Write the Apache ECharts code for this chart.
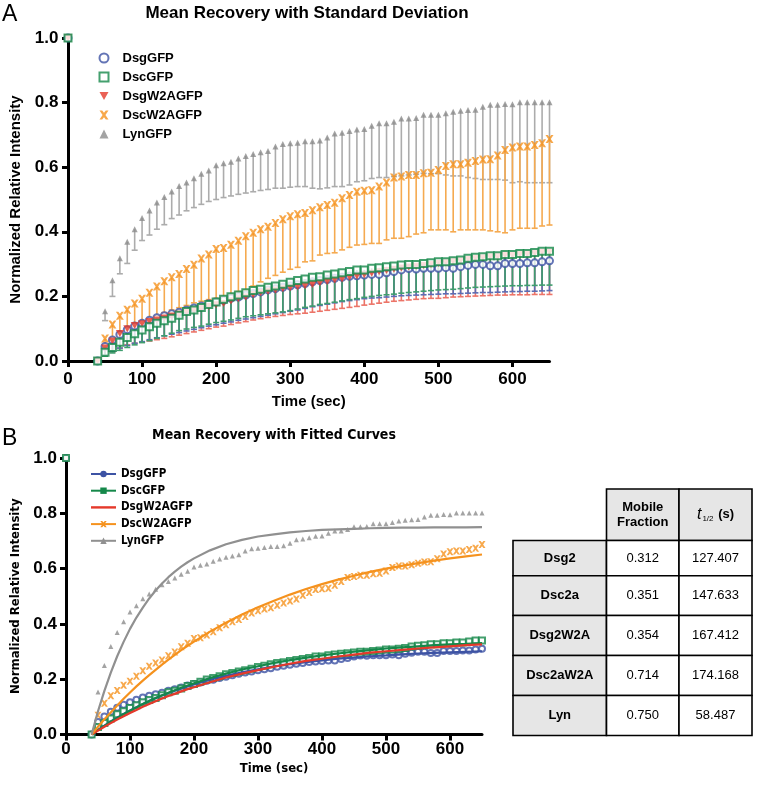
<!DOCTYPE html>
<html><head><meta charset="utf-8">
<script src="https://cdn.jsdelivr.net/npm/echarts@6/dist/echarts.min.js"></script>
<style>html,body{margin:0;padding:0;background:#fff}#c{width:758px;height:786px}</style>
</head><body><div id="c"></div>
<script>
// ---------------- DATA ----------------
const times = [0, 40,
  50, 60, 70, 80, 90, 100, 110, 120, 130, 140,
  150, 160, 170, 180, 190, 200, 210, 220, 230, 240,
  250, 260, 270, 280, 290, 300, 310, 320, 330, 340,
  350, 360, 370, 380, 390, 400, 410, 420, 430, 440,
  450, 460, 470, 480, 490, 500, 510, 520, 530, 540,
  550, 560, 570, 580, 590, 600, 610, 620, 630, 640,
  650];
const seriesNames = ['DsgGFP', 'DscGFP', 'DsgW2AGFP', 'DscW2AGFP', 'LynGFP'];
const xTicks = [0, 100, 200, 300, 400, 500, 600];

const dsgMean = [1.0, 0,
  0.045, 0.065, 0.082, 0.097, 0.108, 0.117, 0.126, 0.134, 0.140, 0.146,
  0.151, 0.158, 0.164, 0.170, 0.177, 0.183, 0.188, 0.194, 0.198, 0.204,
  0.209, 0.214, 0.220, 0.224, 0.228, 0.232, 0.236, 0.240, 0.245, 0.249,
  0.252, 0.256, 0.259, 0.262, 0.264, 0.266, 0.268, 0.268, 0.273, 0.277,
  0.282, 0.286, 0.285, 0.287, 0.287, 0.287, 0.289, 0.287, 0.292, 0.296,
  0.299, 0.299, 0.295, 0.295, 0.302, 0.302, 0.302, 0.304, 0.304, 0.307,
  0.310];
const dsgLow = [null, null,
  0.018, 0.030, 0.040, 0.048, 0.055, 0.060, 0.066, 0.072, 0.078, 0.083,
  0.088, 0.093, 0.098, 0.103, 0.108, 0.112, 0.117, 0.121, 0.126, 0.130,
  0.134, 0.138, 0.142, 0.146, 0.150, 0.154, 0.158, 0.163, 0.168, 0.172,
  0.176, 0.180, 0.184, 0.187, 0.190, 0.193, 0.195, 0.196, 0.198, 0.200,
  0.202, 0.203, 0.204, 0.205, 0.206, 0.207, 0.208, 0.208, 0.209, 0.210,
  0.211, 0.212, 0.212, 0.213, 0.214, 0.215, 0.215, 0.216, 0.216, 0.217,
  0.218];
const dscMean = [1.0, 0,
  0.027, 0.042, 0.058, 0.073, 0.084, 0.096, 0.106, 0.117, 0.125, 0.132,
  0.142, 0.153, 0.158, 0.166, 0.175, 0.183, 0.191, 0.199, 0.204, 0.211,
  0.218, 0.222, 0.228, 0.232, 0.238, 0.244, 0.249, 0.254, 0.259, 0.261,
  0.266, 0.269, 0.273, 0.277, 0.282, 0.282, 0.287, 0.289, 0.292, 0.294,
  0.297, 0.299, 0.299, 0.302, 0.304, 0.307, 0.307, 0.310, 0.313, 0.318,
  0.321, 0.323, 0.326, 0.326, 0.330, 0.330, 0.333, 0.333, 0.336, 0.340,
  0.340];
const dscLow = [null, null,
  0.015, 0.025, 0.033, 0.042, 0.050, 0.057, 0.063, 0.070, 0.078, 0.086,
  0.094, 0.099, 0.104, 0.108, 0.114, 0.119, 0.123, 0.127, 0.132, 0.137,
  0.140, 0.143, 0.146, 0.149, 0.152, 0.156, 0.161, 0.166, 0.170, 0.175,
  0.178, 0.182, 0.186, 0.190, 0.193, 0.197, 0.200, 0.203, 0.205, 0.207,
  0.210, 0.212, 0.214, 0.216, 0.218, 0.220, 0.221, 0.222, 0.224, 0.226,
  0.228, 0.229, 0.230, 0.231, 0.232, 0.233, 0.233, 0.234, 0.234, 0.235,
  0.235];
const dsgW2AMean = [1.0, 0,
  0.040, 0.062, 0.085, 0.100, 0.110, 0.115, 0.122, 0.127, 0.133, 0.139,
  0.145, 0.151, 0.157, 0.163, 0.169, 0.174, 0.178, 0.186, 0.193, 0.198,
  0.205, 0.211, 0.216, 0.219, 0.224, 0.227, 0.230, 0.233, 0.237, 0.242,
  0.246, 0.251, 0.254, 0.259, 0.263, 0.267, 0.272, 0.276, 0.280, 0.284,
  0.288, 0.291, 0.293, 0.296, 0.299, 0.302, 0.304, 0.307, 0.310, 0.314,
  0.317, 0.319, 0.322, 0.323, 0.327, 0.327, 0.330, 0.330, 0.333, 0.337,
  0.337];
const dsgW2ALow = [null, null,
  0.015, 0.028, 0.040, 0.050, 0.055, 0.058, 0.062, 0.066, 0.070, 0.075,
  0.080, 0.085, 0.090, 0.095, 0.100, 0.105, 0.108, 0.113, 0.118, 0.122,
  0.127, 0.131, 0.135, 0.138, 0.141, 0.144, 0.146, 0.148, 0.151, 0.154,
  0.157, 0.160, 0.163, 0.166, 0.169, 0.173, 0.176, 0.179, 0.182, 0.185,
  0.187, 0.189, 0.191, 0.193, 0.194, 0.194, 0.196, 0.198, 0.199, 0.200,
  0.201, 0.202, 0.203, 0.204, 0.204, 0.205, 0.205, 0.205, 0.206, 0.206,
  0.206];
const dscW2AMean = [1.0, 0,
  0.070, 0.113, 0.140, 0.159, 0.178, 0.193, 0.211, 0.231, 0.247, 0.259,
  0.269, 0.285, 0.298, 0.317, 0.330, 0.347, 0.350, 0.360, 0.372, 0.386,
  0.397, 0.408, 0.416, 0.427, 0.439, 0.448, 0.454, 0.458, 0.467, 0.476,
  0.483, 0.490, 0.504, 0.514, 0.524, 0.527, 0.529, 0.540, 0.553, 0.568,
  0.571, 0.576, 0.576, 0.581, 0.583, 0.591, 0.604, 0.609, 0.609, 0.614,
  0.619, 0.624, 0.625, 0.636, 0.653, 0.661, 0.664, 0.664, 0.669, 0.674,
  0.687];
const dscW2ALow = [null, null,
  0.044, 0.065, 0.083, 0.096, 0.108, 0.117, 0.128, 0.140, 0.150, 0.158,
  0.165, 0.172, 0.180, 0.185, 0.190, 0.194, 0.200, 0.207, 0.215, 0.220,
  0.232, 0.245, 0.256, 0.265, 0.275, 0.284, 0.290, 0.307, 0.310, 0.328,
  0.333, 0.335, 0.344, 0.352, 0.359, 0.361, 0.364, 0.364, 0.375, 0.380,
  0.380, 0.385, 0.393, 0.397, 0.406, 0.406, 0.406, 0.400, 0.406, 0.406,
  0.406, 0.406, 0.403, 0.400, 0.397, 0.406, 0.411, 0.411, 0.411, 0.418,
  0.421];
const lynMean = [1.0, 0,
  0.154, 0.250, 0.318, 0.369, 0.408, 0.443, 0.466, 0.491, 0.508, 0.525,
  0.542, 0.553, 0.566, 0.580, 0.590, 0.606, 0.612, 0.617, 0.627, 0.635,
  0.641, 0.646, 0.650, 0.664, 0.672, 0.674, 0.676, 0.680, 0.680, 0.683,
  0.692, 0.704, 0.707, 0.712, 0.717, 0.718, 0.728, 0.736, 0.736, 0.741,
  0.751, 0.751, 0.752, 0.762, 0.762, 0.762, 0.767, 0.772, 0.775, 0.777,
  0.778, 0.787, 0.793, 0.793, 0.796, 0.795, 0.801, 0.801, 0.801, 0.801,
  0.801];
const lynLow = [null, null,
  0.125, 0.200, 0.270, 0.302, 0.343, 0.373, 0.390, 0.408, 0.422, 0.441,
  0.452, 0.465, 0.475, 0.485, 0.494, 0.500, 0.506, 0.511, 0.516, 0.520,
  0.524, 0.528, 0.531, 0.535, 0.535, 0.538, 0.540, 0.540, 0.535, 0.533,
  0.536, 0.540, 0.540, 0.545, 0.555, 0.558, 0.565, 0.568, 0.568, 0.571,
  0.573, 0.576, 0.578, 0.581, 0.580, 0.580, 0.576, 0.573, 0.573, 0.568,
  0.565, 0.562, 0.562, 0.562, 0.560, 0.552, 0.555, 0.552, 0.552, 0.552,
  0.552];

// fitted curves (panel B)
const fitTimes = [40, 50, 60, 70, 80, 90, 100, 110, 120, 130, 140, 150, 160, 170, 180, 190, 200,
  225, 250, 275, 300, 325, 350, 375, 400, 425, 450, 475, 500, 525, 550, 575, 600, 625, 650];
const dsgFit = [0, 0.017, 0.032, 0.047, 0.061, 0.074, 0.087, 0.099, 0.110, 0.121, 0.131, 0.141, 0.150, 0.158, 0.166, 0.174, 0.181,
  0.198, 0.212, 0.225, 0.236, 0.246, 0.254, 0.262, 0.268, 0.274, 0.278, 0.283, 0.286, 0.290, 0.293, 0.295, 0.297, 0.299, 0.301];
const dscFit = [0, 0.016, 0.031, 0.046, 0.060, 0.073, 0.086, 0.098, 0.110, 0.121, 0.132, 0.142, 0.151, 0.160, 0.169, 0.177, 0.185,
  0.204, 0.220, 0.235, 0.247, 0.259, 0.269, 0.278, 0.286, 0.293, 0.300, 0.305, 0.311, 0.315, 0.319, 0.323, 0.326, 0.328, 0.331];
const dsgW2AFit = [0, 0.014, 0.028, 0.041, 0.054, 0.066, 0.078, 0.089, 0.100, 0.110, 0.120, 0.130, 0.139, 0.147, 0.156, 0.164, 0.171,
  0.189, 0.206, 0.220, 0.233, 0.245, 0.256, 0.266, 0.274, 0.282, 0.289, 0.296, 0.301, 0.306, 0.311, 0.315, 0.319, 0.323, 0.326];
const dscW2AFit = [0, 0.028, 0.055, 0.080, 0.105, 0.129, 0.152, 0.174, 0.195, 0.215, 0.234, 0.253, 0.271, 0.288, 0.305, 0.321, 0.336,
  0.372, 0.404, 0.434, 0.460, 0.484, 0.506, 0.526, 0.544, 0.560, 0.574, 0.588, 0.600, 0.610, 0.620, 0.629, 0.637, 0.644, 0.651];
const lynFit = [0, 0.084, 0.158, 0.224, 0.283, 0.335, 0.382, 0.423, 0.459, 0.492, 0.521, 0.546, 0.569, 0.589, 0.607, 0.623, 0.637,
  0.666, 0.688, 0.704, 0.716, 0.724, 0.731, 0.736, 0.740, 0.742, 0.744, 0.746, 0.747, 0.748, 0.748, 0.749, 0.749, 0.749, 0.750];

// table
const tableRowNames = ['Dsg2', 'Dsc2a', 'Dsg2W2A', 'Dsc2aW2A', 'Lyn'];
const mobileFraction = ['0.312', '0.351', '0.354', '0.714', '0.750'];
const halfTime = ['127.407', '147.633', '167.412', '174.168', '58.487'];

// ---------------- STYLE / LAYOUT ----------------
const SANS = '"Liberation Sans", Arial, Helvetica, sans-serif';
const NARROW = '"Liberation Sans Narrow", "Arial Narrow", "DejaVu Sans Condensed", "Liberation Sans", sans-serif';
const C = {blue:'#3d53a4', green:'#15884a', red:'#e5392b', orange:'#f5921e', gray:'#8c8c8c'};
const XMARK = 'path://M0,0 L3,0 L5,2.6 L7,0 L10,0 L6.6,5 L10,10 L7,10 L5,7.4 L3,10 L0,10 L3.4,5 Z';
const DTRI = 'path://M0,0 L10,0 L5,9 Z';
const LINEICON = 'path://M0,0 L25,0 L25,2.4 L0,2.4 Z';

const meansAll = [dsgMean, dscMean, dsgW2AMean, dscW2AMean, lynMean];
const lowsAll = [dsgLow, dscLow, dsgW2ALow, dscW2ALow, lynLow];
const fitsAll = [dsgFit, dscFit, dsgW2AFit, dscW2AFit, lynFit];

function pts(vals){ return times.map((t,i)=>[t, vals[i]]); }
function errData(m, lo){ const out=[]; times.forEach((t,i)=>{ if(lo[i]!=null) out.push([t, m[i], lo[i]]); }); return out; }
function fitPts(vals){ return fitTimes.map((t,i)=>[t, vals[i]]); }

function errRender(color){
  return function(params, api){
    const t = api.value(0), m = api.value(1), lo = api.value(2);
    const p1 = api.coord([t, m]), p2 = api.coord([t, lo]);
    return {type:'group', children:[
      {type:'line', shape:{x1:p1[0], y1:p1[1], x2:p2[0], y2:p2[1]}, style:{stroke:color, lineWidth:1.6}},
      {type:'line', shape:{x1:p2[0]-3, y1:p2[1], x2:p2[0]+3, y2:p2[1]}, style:{stroke:color, lineWidth:1.6}}
    ]};
  };
}

function xAxisCfg(gi, labelMargin, nameGap, nameFont, nameSize){
  return {gridIndex:gi, type:'value', min:0, max:650, interval:100,
    axisLine:{show:true, onZero:false, lineStyle:{color:'#000', width:3}},
    axisTick:{show:true, length:6, customValues:xTicks, lineStyle:{color:'#000', width:3}},
    axisLabel:{customValues:xTicks, color:'#000', fontWeight:'bold', fontSize:17, fontFamily:SANS, margin:labelMargin},
    splitLine:{show:false},
    name:'Time (sec)', nameLocation:'middle', nameGap:nameGap,
    nameTextStyle:{color:'#000', fontWeight:'bold', fontSize:nameSize, fontFamily:nameFont}};
}
function yAxisCfg(gi, labelMargin, nameGap, nameFont, nameSize){
  return {gridIndex:gi, type:'value', min:0, max:1, interval:0.2,
    axisLine:{show:true, onZero:false, lineStyle:{color:'#000', width:3}},
    axisTick:{show:true, length:6, lineStyle:{color:'#000', width:3}},
    axisLabel:{color:'#000', fontWeight:'bold', fontSize:17, fontFamily:SANS, margin:labelMargin, formatter:v=>v.toFixed(1)},
    splitLine:{show:false},
    name:'Normalized Relative Intensity', nameLocation:'middle', nameGap:nameGap,
    nameTextStyle:{color:'#000', fontWeight:'bold', fontSize:nameSize, fontFamily:nameFont}};
}

const series = [];
// top panel error bars
const errColors = ['#5c6db3', '#3f9d6e', '#ec7468', '#f5aa50', '#acacac'];
[4,3,2,0,1].forEach(k=>{
  series.push({type:'custom', name:'err'+k, xAxisIndex:0, yAxisIndex:0, renderItem:errRender(errColors[k]),
    encode:{x:0, y:[1,2]}, data:errData(meansAll[k], lowsAll[k]), z:2, silent:true});
});
// top panel markers
const topSym = [
  {symbol:'circle', symbolSize:7, itemStyle:{color:'#fff', borderColor:C.blue, borderWidth:2}},
  {symbol:'rect', symbolSize:7, itemStyle:{color:'#fff', borderColor:C.green, borderWidth:2}},
  {symbol:DTRI, symbolSize:[8,7], itemStyle:{color:C.red}},
  {symbol:XMARK, symbolSize:8, itemStyle:{color:C.orange}},
  {symbol:'triangle', symbolSize:[6,6], itemStyle:{color:C.gray}}
];
[4,3,0,2,1].forEach(k=>{
  series.push(Object.assign({type:'scatter', name:seriesNames[k], xAxisIndex:0, yAxisIndex:0, data:pts(meansAll[k]), z:3}, topSym[k]));
});
// bottom panel markers
const botSym = [
  {symbol:'circle', symbolSize:6, itemStyle:{color:'#fff', borderColor:C.blue, borderWidth:2}},
  {symbol:'rect', symbolSize:6, itemStyle:{color:'#fff', borderColor:C.green, borderWidth:2}},
  null,
  {symbol:XMARK, symbolSize:7, itemStyle:{color:C.orange}},
  {symbol:'triangle', symbolSize:[5,5], itemStyle:{color:C.gray}}
];
[4,3,0,1].forEach(k=>{
  series.push(Object.assign({type:'scatter', name:seriesNames[k]+' points', xAxisIndex:1, yAxisIndex:1, data:pts(meansAll[k]), z:3}, botSym[k]));
});
// bottom panel fitted lines
const lineCol = [C.blue, C.green, C.red, C.orange, '#909090'];
const legSym = ['circle', 'rect', 'none', XMARK, 'triangle'];
[0,1,2,3,4].forEach(k=>{
  series.push({type:'line', name:seriesNames[k]+'_b', xAxisIndex:1, yAxisIndex:1, data:fitPts(fitsAll[k]),
    smooth:false, showSymbol:false, symbol:legSym[k], symbolSize:7,
    lineStyle:{color:lineCol[k], width:2.2}, itemStyle:{color:lineCol[k]}, z:4});
});

// table graphics
const colX = [513, 606.5, 679, 752];
const rowY = [489, 540.5, 575.7, 615.5, 655.5, 695.5, 735.5];
const tbl = [];
function cell(x0,x1,y0,y1,fill){ tbl.push({type:'rect', shape:{x:x0, y:y0, width:x1-x0, height:y1-y0}, style:{fill:fill, stroke:'#000', lineWidth:1.6}}); }
function txt(x,y,text,bold,size,fam){ tbl.push({type:'text', x:x, y:y, style:{text:text, align:'center', verticalAlign:'middle', fontSize:size||13, fontWeight:bold?'bold':'normal', fontFamily:fam||SANS, fill:'#000', lineHeight:15}}); }
cell(colX[1], colX[2], rowY[0], rowY[1], '#e6e6e6');
cell(colX[2], colX[3], rowY[0], rowY[1], '#e6e6e6');
txt((colX[1]+colX[2])/2, (rowY[0]+rowY[1])/2, 'Mobile\nFraction', true, 13);
tbl.push({type:'text', x:(colX[2]+colX[3])/2, y:(rowY[0]+rowY[1])/2, style:{
  text:'{t|t}{s|1/2}{b| (s)}', align:'center', verticalAlign:'middle', fill:'#000',
  rich:{t:{fontStyle:'italic', fontSize:16, fontFamily:SANS, fill:'#000'},
        s:{fontSize:8, fontFamily:SANS, fill:'#000', verticalAlign:'bottom', padding:[0,1,0,1]},
        b:{fontSize:13, fontWeight:'bold', fontFamily:SANS, fill:'#000'}}}});
tableRowNames.forEach((nm,i)=>{
  const y0 = rowY[i+1], y1 = rowY[i+2], yc = (y0+y1)/2;
  cell(colX[0], colX[1], y0, y1, '#e6e6e6');
  cell(colX[1], colX[2], y0, y1, '#ffffff');
  cell(colX[2], colX[3], y0, y1, '#ffffff');
  txt((colX[0]+colX[1])/2, yc, nm, true, 13);
  txt((colX[1]+colX[2])/2, yc, mobileFraction[i], false, 13);
  txt((colX[2]+colX[3])/2, yc, halfTime[i], false, 13);
});

const graphics = [
  {type:'text', x:2, y:15, style:{text:'A', fontSize:23, fontFamily:SANS, fill:'#000', verticalAlign:'middle'}},
  {type:'text', x:2, y:439, style:{text:'B', fontSize:23, fontFamily:SANS, fill:'#000', verticalAlign:'middle'}},
  {type:'text', x:307, y:13, style:{text:'Mean Recovery with Standard Deviation', align:'center', verticalAlign:'middle', fontSize:17, fontWeight:'bold', fontFamily:SANS, fill:'#000'}},
  {type:'text', x:274, y:435, style:{text:'Mean Recovery with Fitted Curves', align:'center', verticalAlign:'middle', fontSize:14, fontWeight:'bold', fontFamily:NARROW, fill:'#000'}}
].concat(tbl);

const bottomLegendData = seriesNames.map((n,k)=> k===2 ? {name:n+'_b', icon:LINEICON} : n+'_b');

const chart = echarts.init(document.getElementById('c'), null, {renderer:'canvas'});
chart.setOption({
  animation:false,
  backgroundColor:'#fff',
  grid:[
    {left:64.5, top:38, width:485, height:323},
    {left:66, top:458, width:416, height:276.5}
  ],
  xAxis:[xAxisCfg(0, 10, 33, SANS, 15), xAxisCfg(1, 6, 28, NARROW, 13)],
  yAxis:[yAxisCfg(0, 9.5, 45, SANS, 15), yAxisCfg(1, 9, 44, NARROW, 13)],
  legend:[
    {data:seriesNames, orient:'vertical', left:93.5, top:46, itemWidth:9, itemHeight:9, itemGap:5,
     selectedMode:false, textStyle:{fontSize:13, fontWeight:'bold', fontFamily:SANS, color:'#000', lineHeight:14, padding:[0,0,0,9]}},
    {data:bottomLegendData, orient:'vertical', left:85, top:463, itemWidth:25, itemHeight:8, itemGap:4.7,
     selectedMode:false, formatter:n=>n.replace('_b',''),
     textStyle:{fontSize:11.5, fontWeight:'bold', fontFamily:NARROW, color:'#000', lineHeight:12}}
  ],
  graphic:graphics,
  series:series
});
</script>
</body></html>
